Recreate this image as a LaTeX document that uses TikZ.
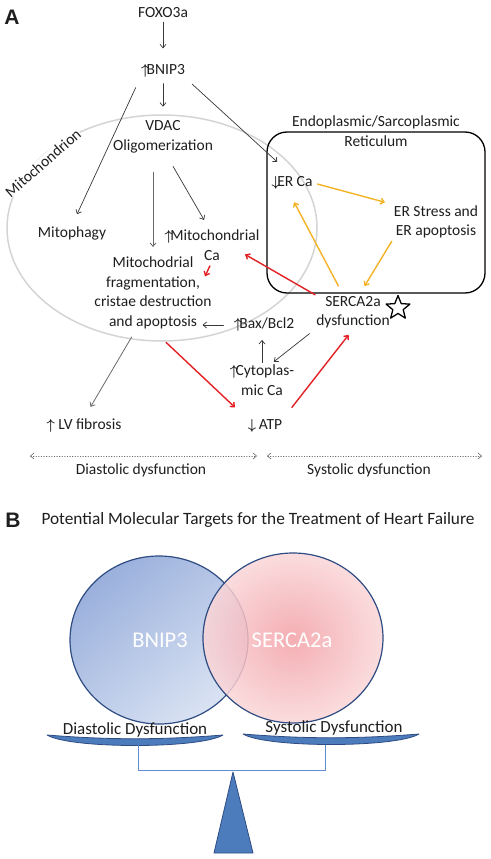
\documentclass[tikz,border=0pt]{standalone}
\usepackage{fontspec}
\usepackage{amsmath}
\setmainfont{Carlito}
\newfontfamily\panelfont{Liberation Sans}
\usetikzlibrary{arrows.meta}
\usetikzlibrary{shapes.geometric}
\definecolor{txtc}{RGB}{30,30,30}
\definecolor{arrc}{RGB}{55,55,55}
\definecolor{gryc}{RGB}{105,105,105}
\definecolor{redc}{RGB}{227,32,36}
\definecolor{yelc}{RGB}{244,178,38}
\definecolor{mitoc}{RGB}{212,212,212}
\definecolor{bluea}{RGB}{154,176,220}
\definecolor{blueb}{RGB}{218,227,243}
\definecolor{pinka}{RGB}{242,160,166}
\definecolor{pinkb}{RGB}{250,214,216}
\definecolor{rimc}{RGB}{46,76,130}
\definecolor{panc}{RGB}{76,124,188}
\definecolor{brc}{RGB}{96,140,205}
\newcommand{\mainsize}{\fontsize{15.5}{19.5}\selectfont}
\newcommand{\up}{$\boldsymbol{\uparrow}$}
\newcommand{\dn}{$\boldsymbol{\downarrow}$}
\tikzstyle{every node}=[font=\mainsize,text=txtc]

\begin{document}
\begin{tikzpicture}[line cap=round,line join=round,>={Straight Barb[length=3.5pt,width=6pt]},x=1pt,y=-1pt]
\useasboundingbox (0,0) rectangle (490,859);
\tikzset{
  lbl/.style={inner sep=1pt,align=center},
  blk/.style={->,draw=arrc,line width=0.7pt},
  gry/.style={->,draw=gryc,line width=0.8pt},
  redar/.style={->,draw=redc,line width=1.4pt},
  yel/.style={->,draw=yelc,line width=1.4pt},
  dots/.style={<->,draw=gryc,line width=0.6pt,dotted}
}
% panel A
\node[font=\panelfont\bfseries\fontsize{21}{21}\selectfont] (pA) at (12,17) {A};
\draw[mitoc,line width=1.5pt] (162,228) ellipse [x radius=155,y radius=113];
\node[lbl,rotate=41,fill=white,inner sep=0.5pt] (mito) at (43,163) {Mitochondrion};
\draw[line width=1.3pt,rounded corners=20pt] (267,132) rectangle (485,293);
\node[lbl] (ertitle) at (376,131) {Endoplasmic/Sarcoplasmic\\Reticulum};

\node[lbl] (foxo) at (163,13) {FOXO3a};
\node[lbl] (bnip) at (163,71) {\up\!BNIP3};
\node[lbl] (vdac) at (163,137) {VDAC\\Oligomerization};
\node[lbl] (mitophagy) at (72,233) {Mitophagy};
\node[lbl] (mitoca) at (212,245) {\up\!Mitochondrial\\Ca};
\node[lbl] (frag) at (153,293) {Mitochodrial\\fragmentation,\\cristae destruction\\and apoptosis};
\node[lbl] (bax) at (264,325) {\up\!Bax/Bcl2};
\node[lbl] (cyto) at (262,380) {\up\!Cytoplas-\\mic Ca};
\node[lbl] (atp) at (265,426) {\dn\,ATP};
\node[lbl] (lv) at (84,426) {\up\ LV fibrosis};
\node[lbl] (erca) at (292,183) {\dn\!ER Ca};
\node[lbl] (erstress) at (436,222) {ER Stress and\\ER apoptosis};
\node[lbl] (serca) at (353,312) {SERCA2a\\dysfunction};
\node[star,star points=5,star point ratio=2.3,draw,line width=1.3pt,fill=white,minimum size=25pt,inner sep=0pt] (star) at (398,308) {};

% black and gray arrows
\draw[blk,shorten <=3pt,shorten >=15pt] (foxo.south) -- (bnip.north);
\draw[blk,shorten <=5pt,shorten >=13pt] (bnip.south) -- (vdac.north);
\draw[blk,shorten <=10pt,shorten >=12pt] (bnip.south west) -- (mitophagy.north);
\draw[blk,shorten <=8pt,shorten >=20pt] (bnip.south east) -- (erca.north);
\draw[gry,shorten <=18pt,shorten >=9pt] (frag.north |- vdac.south) -- (frag.north);
\draw[blk,shorten <=14pt,shorten >=10pt] (vdac.-80) -- (mitoca.100);
\draw[gry,shorten <=8pt,shorten >=13pt] (frag.-115) -- (lv.north);
\draw[blk,shorten <=9pt] (bax.west) -- ([xshift=-30pt]bax.west);
\draw[blk,shorten <=1pt,shorten >=7pt] (cyto.north) -- (cyto.north |- bax.south);
\draw[blk,shorten <=7pt,shorten >=3pt] (serca.south west) -- (cyto.60);

% red arrows
\draw[redar] (serca.north west) -- ([xshift=33pt,yshift=7pt]mitoca.south);
\draw[redar,shorten <=5pt] (mitoca.south) -- ([xshift=-7pt,yshift=-15pt]mitoca.south);
\draw[redar,shorten <=18pt,shorten >=16pt] (frag.south) -- (atp.north west);
\draw[redar,shorten <=14pt,shorten >=7pt] (atp.north east) -- (serca.south);

% yellow arrows
\draw[yel,shorten <=4pt,shorten >=8pt] (erca.east) -- (erstress.north west);
\draw[yel,shorten <=2pt,shorten >=10pt] (erstress.south west) -- (serca.70);
\draw[yel,shorten <=10pt,shorten >=13pt] (serca.120) -- ([xshift=-4pt]erca.south);

% diastolic / systolic
\coordinate (dl1) at (30,456);
\coordinate (dl2) at (257,456);
\coordinate (dr1) at (267,456);
\coordinate (dr2) at (482,456);
\draw[dots] (dl1) -- (dl2);
\draw[dots] (dr1) -- (dr2);
\node[lbl] (dia) at (141,470) {Diastolic dysfunction};
\node[lbl] (sys) at (369,470) {Systolic dysfunction};

% panel B
\node[font=\panelfont\bfseries\fontsize{21}{21}\selectfont] (pB) at (13,520) {B};
\node[lbl,font=\fontsize{17.3}{19}\selectfont] (title) at (258,520) {Potential Molecular Targets for the Treatment of Heart Failure};
\path[draw=rimc,line width=1.2pt,top color=bluea,bottom color=blueb,shading angle=40] (159,640) ellipse [x radius=89,y radius=84];
\path[draw=rimc,line width=1.2pt,inner color=pinka,outer color=pinkb,fill opacity=0.85] (293,638) ellipse [x radius=90,y radius=85];
\node[lbl,text=white,font=\fontsize{22.5}{24}\selectfont] (bnipc) at (160,640) {BNIP3};
\node[lbl,text=white,font=\fontsize{22.5}{24}\selectfont] (sercac) at (292,640) {SERCA2a};

% balance
\filldraw[fill=panc,draw=rimc,line width=0.8pt] (47,735) .. controls (110,740) and (160,740) .. (223,735) .. controls (200,749) and (70,749) .. cycle;
\filldraw[fill=panc,draw=rimc,line width=0.8pt] (243,734) .. controls (306,739) and (356,739) .. (419,734) .. controls (396,748) and (266,748) .. cycle;
\draw[brc,line width=1pt,line cap=butt] (138,745) -- (138,770) -- (325,770) -- (325,745);
\filldraw[fill=panc,draw=rimc,line width=0.8pt] (233,772) -- (253,853) -- (214,853) -- cycle;
\node[lbl,font=\fontsize{17}{19}\selectfont] (diab) at (135,730) {Diastolic Dysfunction};
\node[lbl,font=\fontsize{17}{19}\selectfont] (sysb) at (334,728) {Systolic Dysfunction};
\end{tikzpicture}
\end{document}
